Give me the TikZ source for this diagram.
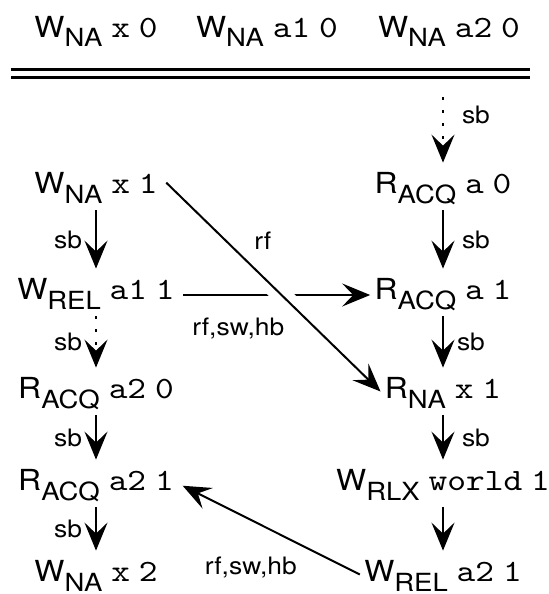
\documentclass[tikz,border=0pt]{standalone}
\usepackage{fontspec}
\setmainfont{TeX Gyre Heros}[FakeStretch=1.1]
\setmonofont{lmmono10-regular}[Extension=.otf, FakeStretch=1.15]
\usetikzlibrary{arrows.meta}
\newcommand{\ev}[4]{#1\raisebox{-5pt}{\fontsize{12.5}{13}\selectfont #2} {\fontsize{15.5}{16}\selectfont\ttfamily #3} {\fontsize{15.5}{16}\selectfont\ttfamily #4}}

\begin{document}
\begin{tikzpicture}[x=0.5pt,y=-0.5pt]
    \tikzset{
      evt/.style={
        anchor=base,
        font=\fontsize{14.5}{16}\selectfont,
        inner xsep=2pt,
        inner ysep=0pt,
        text height=15pt,
        text depth=8.5pt},
      lab/.style={font=\fontsize{12}{13}\selectfont, inner sep=3pt},
      arr/.style={-{Stealth[length=14pt,width=11.5pt,inset=5.5pt]}, line width=1pt},
      sbdots/.style={dash pattern=on 1.5pt off 5pt}}
    \useasboundingbox (0,0) rectangle (548,594);
    \node[evt] at (96,37) (wx0) {\ev{W}{NA}{x}{0}};
    \node[evt] at (267,37) (wa10) {\ev{W}{NA}{a1}{0}};
    \node[evt] at (449,37) (wa20) {\ev{W}{NA}{a2}{0}};
    \draw[line width=1.4pt, double, double distance=2.6pt] (10.5,73.6) -- (529.5,73.6);
    \node[evt] at (96,193) (wx1) {\ev{W}{NA}{x}{1}};
    \node[evt] at (96,299) (wa11) {\ev{W}{REL}{a1}{1}};
    \node[evt] at (96,398) (ra20) {\ev{R}{ACQ}{a2}{0}};
    \node[evt] at (96,490) (ra21) {\ev{R}{ACQ}{a2}{1}};
    \node[evt] at (96,581) (wx2) {\ev{W}{NA}{x}{2}};
    \coordinate (init) at (443,97);
    \node[evt] at (443,193) (ra0) {\ev{R}{ACQ}{a}{0}};
    \node[evt] at (443,299) (ra1) {\ev{R}{ACQ}{a}{1}};
    \node[evt] at (443,398) (rx1) {\ev{R}{NA}{x}{1}};
    \node[evt] at (443,490) (ww1) {\ev{W}{RLX}{world}{1}};
    \node[evt] at (443,581) (wa21) {\ev{W}{REL}{a2}{1}};
    \draw[arr] (wx1) -- (wa11) node[midway,left=3.5pt,lab] {sb};
    \draw[arr,sbdots] (wa11) -- (ra20) node[midway,left=3.5pt,lab] {sb};
    \draw[arr] (ra20) -- (ra21) node[midway,left=3.5pt,lab] {sb};
    \draw[arr] (ra21) -- (wx2) node[midway,left=3.5pt,lab] {sb};
    \draw[arr,sbdots] (init) -- (ra0) node[pos=.27,right=6pt,lab] {sb};
    \draw[arr] (ra0) -- (ra1) node[midway,right=6pt,lab] {sb};
    \draw[arr] (ra1) -- (rx1) node[midway,right=3.5pt,lab] {sb};
    \draw[arr] (rx1) -- (ww1) node[midway,right=6pt,lab] {sb};
    \draw[arr] (ww1) -- (wa21);
    \draw[arr, shorten <=2pt] ([yshift=2pt]wa11.base east) -- ([yshift=2pt]ra1.base west) node[pos=.31,below=8pt,lab] {rf,sw,hb};
    \draw[arr, shorten <=3pt, preaction={draw=white, -, line width=9.5pt, shorten <=74pt, shorten >=60pt}] ([yshift=4pt]wx1.east) -- (rx1.west) node[pos=.29,right=11pt,lab] {rf};
    \draw[arr, shorten >=2.5pt] (wa21.west) -- (ra21.east) node[pos=.6,below=15pt,lab] {rf,sw,hb};
\end{tikzpicture}
\end{document}
